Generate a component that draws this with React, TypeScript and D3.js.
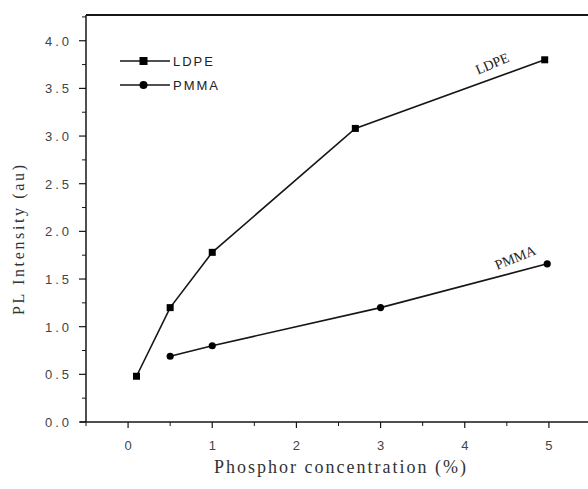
import { useEffect, useRef } from 'react'
import * as d3 from 'd3'

const W = 588
const H = 489

// values
const ldpeX = [0.1, 0.5, 1.0, 2.7, 4.95]
const ldpeY = [0.48, 1.2, 1.78, 3.08, 3.8]
const pmmaX = [0.5, 1.0, 3.0, 4.98]
const pmmaY = [0.69, 0.8, 1.2, 1.66]

const xTicks = [0, 1, 2, 3, 4, 5]
const xMinor = [-0.5, 0.5, 1.5, 2.5, 3.5, 4.5, 5.5]
const yTicks = [0, 0.5, 1, 1.5, 2, 2.5, 3, 3.5, 4]
const yTickLabels = ['0.0', '0.5', '1.0', '1.5', '2.0', '2.5', '3.0', '3.5', '4.0']
const yMinor = [0.25, 0.75, 1.25, 1.75, 2.25, 2.75, 3.25, 3.75, 4.25]

const seriesNames = ['LDPE', 'PMMA']

const SERIF = "'Liberation Serif', 'Times New Roman', serif"
const SANS = "'Liberation Sans', Arial, sans-serif"

export default function App() {
  const svgRef = useRef<SVGSVGElement>(null)

  useEffect(() => {
    if (!svgRef.current) return
    const svg = d3.select(svgRef.current)
    svg.selectAll('*').remove()

    const x = d3.scaleLinear().domain([-0.5, 5.5]).range([86, 591])
    const y = d3.scaleLinear().domain([0, 4.27]).range([422, 15])
    const ink = '#161616'

    svg.append('rect').attr('width', W).attr('height', H).attr('fill', '#fff')

    // frame: left axis, bottom axis, top border
    const x0 = x(-0.5)
    svg.append('line').attr('x1', x0).attr('x2', x0).attr('y1', y(4.27)).attr('y2', y(0))
      .attr('stroke', ink).attr('stroke-width', 1.5)
    svg.append('line').attr('x1', x0 - 6).attr('x2', W).attr('y1', y(0)).attr('y2', y(0))
      .attr('stroke', ink).attr('stroke-width', 1.5)
    svg.append('line').attr('x1', x0).attr('x2', W).attr('y1', y(4.27)).attr('y2', y(4.27))
      .attr('stroke', ink).attr('stroke-width', 2)

    // y ticks
    svg.selectAll('.ytick').data(yTicks).enter().append('line')
      .attr('x1', x0 - 7).attr('x2', x0).attr('y1', (d) => y(d)).attr('y2', (d) => y(d))
      .attr('stroke', ink).attr('stroke-width', 1.2)
    svg.selectAll('.yminor').data(yMinor).enter().append('line')
      .attr('x1', x0 - 4).attr('x2', x0).attr('y1', (d) => y(d)).attr('y2', (d) => y(d))
      .attr('stroke', ink).attr('stroke-width', 1)
    svg.selectAll('.ylab').data(yTicks).enter().append('text')
      .attr('x', 72).attr('y', (d) => y(d) + 5)
      .attr('text-anchor', 'end')
      .attr('font-family', SANS)
      .attr('font-size', 13).attr('letter-spacing', 3).attr('fill', '#444')
      .text((_, i) => yTickLabels[i])

    // x ticks
    svg.selectAll('.xtick').data(xTicks).enter().append('line')
      .attr('x1', (d) => x(d)).attr('x2', (d) => x(d)).attr('y1', y(0)).attr('y2', y(0) + 6)
      .attr('stroke', ink).attr('stroke-width', 1.2)
    svg.selectAll('.xminor').data(xMinor).enter().append('line')
      .attr('x1', (d) => x(d)).attr('x2', (d) => x(d)).attr('y1', y(0)).attr('y2', y(0) + 4)
      .attr('stroke', ink).attr('stroke-width', 1)
    svg.selectAll('.xlab').data(xTicks).enter().append('text')
      .attr('x', (d) => x(d)).attr('y', 450)
      .attr('text-anchor', 'middle')
      .attr('font-family', SANS)
      .attr('font-size', 13).attr('fill', '#444')
      .text((d) => String(d))

    // axis titles
    svg.append('text').attr('x', 340).attr('y', 473).attr('text-anchor', 'middle')
      .attr('font-family', SERIF).attr('font-size', 18)
      .attr('fill', '#333').attr('textLength', 252).attr('lengthAdjust', 'spacing')
      .text('Phosphor concentration (%)')
    svg.append('text').attr('transform', 'translate(24,240) rotate(-90)').attr('text-anchor', 'middle')
      .attr('font-family', SERIF).attr('font-size', 16)
      .attr('fill', '#333').attr('textLength', 150).attr('lengthAdjust', 'spacing')
      .text('PL Intensity (au)')

    const line = d3.line<[number, number]>().x((d) => x(d[0])).y((d) => y(d[1]))
    const ldpe: [number, number][] = ldpeX.map((v, i) => [v, ldpeY[i]])
    const pmma: [number, number][] = pmmaX.map((v, i) => [v, pmmaY[i]])

    svg.append('path').attr('d', line(ldpe) ?? '').attr('fill', 'none')
      .attr('stroke', ink).attr('stroke-width', 1.6)
    svg.append('path').attr('d', line(pmma) ?? '').attr('fill', 'none')
      .attr('stroke', ink).attr('stroke-width', 1.6)

    svg.selectAll('.ldpept').data(ldpe).enter().append('rect')
      .attr('x', (d) => x(d[0]) - 3.5).attr('y', (d) => y(d[1]) - 3.5)
      .attr('width', 7).attr('height', 7).attr('fill', '#000')
    svg.selectAll('.pmmapt').data(pmma).enter().append('circle')
      .attr('cx', (d) => x(d[0])).attr('cy', (d) => y(d[1])).attr('r', 3.6).attr('fill', '#000')

    // legend
    const legY = [61, 85]
    seriesNames.forEach((name, i) => {
      svg.append('line').attr('x1', 120).attr('x2', 170).attr('y1', legY[i]).attr('y2', legY[i])
        .attr('stroke', ink).attr('stroke-width', 1.6)
      if (i === 0) {
        svg.append('rect').attr('x', 139.5).attr('y', legY[i] - 4).attr('width', 8).attr('height', 8).attr('fill', '#000')
      } else {
        svg.append('circle').attr('cx', 143.5).attr('cy', legY[i]).attr('r', 4).attr('fill', '#000')
      }
      svg.append('text').attr('x', 173).attr('y', legY[i] + 5)
        .attr('font-family', SANS).attr('font-size', 13)
        .attr('letter-spacing', 2).attr('fill', '#222').text(name)
    })

    // in-plot curve labels
    svg.append('text').attr('transform', 'translate(494,68) rotate(-23)').attr('text-anchor', 'middle')
      .attr('font-family', SERIF).attr('font-size', 14)
      .attr('fill', '#222').text(seriesNames[0])
    svg.append('text').attr('transform', 'translate(517,262) rotate(-22)').attr('text-anchor', 'middle')
      .attr('font-family', SERIF).attr('font-size', 14)
      .attr('fill', '#222').text(seriesNames[1])
  }, [])

  return (
    <svg
      ref={svgRef}
      width={W}
      height={H}
      style={{ display: 'block', position: 'absolute', left: 0, top: 0 }}
    />
  )
}
